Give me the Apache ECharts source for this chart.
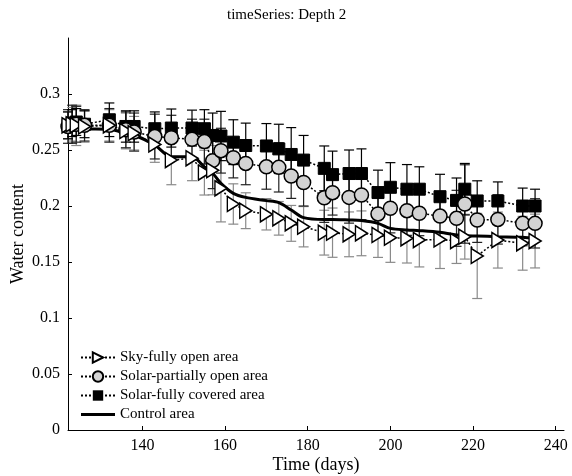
<!DOCTYPE html>
<html lang="en">
  <head>
    <meta charset="UTF-8" />
    <title>timeSeries: Depth 2</title>
    <style>
      html, body { margin: 0; padding: 0; background: #fff; }
    </style>
  </head>
  <body>
    <div id="main" style="width: 572px; height: 476px"></div>
    <script src="https://cdn.jsdelivr.net/npm/echarts@6/dist/echarts.min.js"></script>
    <script>
      // sample days (shared by all series)
      var days = [122, 123, 124, 126, 132, 136, 138, 143, 147, 152, 155, 157, 159, 162, 165, 170, 173,
        176, 179, 184, 186, 190, 193, 197, 200, 204, 207, 212, 216, 218, 221, 226, 232, 235];

      var skyOpen = [0.272, 0.273, 0.272, 0.271, 0.272, 0.267, 0.265, 0.255, 0.241, 0.2426, 0.2298, 0.232,
        0.2158, 0.2018, 0.1958, 0.1926, 0.189, 0.1845, 0.1815, 0.1762, 0.1762, 0.1747, 0.1756, 0.1741,
        0.1717, 0.1711, 0.1696, 0.1702, 0.1687, 0.1726, 0.1554, 0.1696, 0.1667, 0.1687];
      var skyErr = [0.012, 0.015, 0.018, 0.014, 0.014, 0.016, 0.015, 0.016, 0.022, 0.02, 0.02, 0.022,
        0.03, 0.018, 0.016, 0.014, 0.015, 0.016, 0.018, 0.02, 0.022, 0.02, 0.02, 0.02, 0.022, 0.022,
        0.024, 0.026, 0.02, 0.02, 0.038, 0.025, 0.024, 0.024];

      var solarPartial = [0.271, 0.273, 0.273, 0.272, 0.272, 0.268, 0.266, 0.262, 0.261, 0.2595, 0.2575,
        0.2405, 0.2494, 0.2431, 0.238, 0.235, 0.2345, 0.2268, 0.221, 0.2074, 0.2119, 0.2077, 0.2098,
        0.1929, 0.198, 0.1958, 0.1935, 0.191, 0.189, 0.2018, 0.1875, 0.188, 0.1845, 0.1845];
      var partialErr = [0.015, 0.017, 0.016, 0.014, 0.015, 0.016, 0.017, 0.02, 0.02, 0.018, 0.02, 0.025,
        0.02, 0.018, 0.019, 0.02, 0.022, 0.02, 0.021, 0.022, 0.02, 0.023, 0.022, 0.02, 0.022, 0.022,
        0.02, 0.022, 0.025, 0.035, 0.02, 0.022, 0.02, 0.022];

      var solarCovered = [0.272, 0.274, 0.275, 0.273, 0.277, 0.271, 0.271, 0.269, 0.2696, 0.2696, 0.269,
        0.263, 0.2625, 0.257, 0.254, 0.2536, 0.251, 0.246, 0.241, 0.2336, 0.228, 0.229, 0.229, 0.212,
        0.2167, 0.215, 0.215, 0.2083, 0.205, 0.215, 0.2045, 0.2045, 0.2, 0.2];
      var coveredErr = [0.012, 0.012, 0.012, 0.012, 0.015, 0.014, 0.014, 0.015, 0.017, 0.016, 0.017, 0.02,
        0.022, 0.02, 0.02, 0.02, 0.022, 0.024, 0.022, 0.02, 0.021, 0.021, 0.022, 0.02, 0.022, 0.022,
        0.02, 0.02, 0.02, 0.023, 0.018, 0.017, 0.016, 0.015];

      var control = [0.27, 0.27, 0.27, 0.269, 0.2685, 0.265, 0.2634, 0.2545, 0.244, 0.244, 0.235, 0.2292,
        0.2202, 0.2113, 0.2077, 0.2048, 0.203, 0.1964, 0.1896, 0.188, 0.188, 0.1875, 0.187, 0.1845,
        0.18, 0.1786, 0.178, 0.1765, 0.1741, 0.1735, 0.1732, 0.1726, 0.172, 0.1711];

      var xTicks = [140, 160, 180, 200, 220, 240];
      var yTicks = [0, 0.05, 0.1, 0.15, 0.2, 0.25, 0.3];

      var names = ["Sky-fully open area", "Solar-partially open area", "Solar-fully covered area", "Control area"];
      var serif = "Liberation Serif";

      function pairs(vals) {
        return days.map(function (d, i) { return [d, vals[i]]; });
      }
      function errData(vals, errs) {
        return days.map(function (d, i) { return [d, vals[i], errs[i]]; });
      }

      // draws a vertical error bar with caps
      function errRender(color) {
        return function (params, api) {
          var x = api.value(0), y = api.value(1), e = api.value(2);
          var top = api.coord([x, y + e]);
          var bot = api.coord([x, y - e]);
          var w = 5;
          var style = { stroke: color, lineWidth: 1.2 };
          return {
            type: "group",
            children: [
              { type: "line", shape: { x1: top[0], y1: top[1], x2: bot[0], y2: bot[1] }, style: style },
              { type: "line", shape: { x1: top[0] - w, y1: top[1], x2: top[0] + w, y2: top[1] }, style: style },
              { type: "line", shape: { x1: bot[0] - w, y1: bot[1], x2: bot[0] + w, y2: bot[1] }, style: style },
            ],
          };
        };
      }

      var dotted = { color: "#000", width: 1.5, type: [2, 2] };

      var myChart = echarts.init(document.getElementById("main"));
      var option = {
        animation: false,
        backgroundColor: "#fff",
        title: {
          text: "timeSeries: Depth 2",
          left: 222,
          top: 3,
          textStyle: { fontFamily: serif, fontWeight: "normal", fontSize: 15, color: "#000" },
        },
        legend: {
          data: [
            names[0],
            names[1],
            names[2],
            // plain thick bar for the control line
            { name: names[3], icon: "path://M0,0L34,0L34,3L0,3Z", itemStyle: { color: "#000" } },
          ],
          orient: "vertical",
          left: 75,
          top: 345,
          itemWidth: 34,
          itemHeight: 13,
          itemGap: 4,
          textStyle: { fontFamily: serif, fontSize: 15, color: "#000" },
        },
        grid: { left: 68, right: 8, top: 38, bottom: 46, containLabel: false, outerBoundsMode: "none" },
        xAxis: {
          type: "value",
          min: 122,
          max: 242,
          name: "Time (days)",
          nameLocation: "middle",
          nameGap: 26,
          nameMoveOverlap: false,
          nameTextStyle: { fontFamily: serif, fontSize: 18, color: "#000" },
          axisLine: { lineStyle: { color: "#000" } },
          axisTick: { inside: true, length: 4, customValues: xTicks, lineStyle: { color: "#000" } },
          axisLabel: { customValues: xTicks, fontFamily: serif, fontSize: 16, color: "#000", margin: 8 },
          splitLine: { show: false },
        },
        yAxis: {
          type: "value",
          min: 0,
          max: 0.35,
          name: "Water content",
          nameLocation: "middle",
          nameGap: 41,
          nameMoveOverlap: false,
          nameTextStyle: { fontFamily: serif, fontSize: 18, color: "#000" },
          axisLine: { show: true, lineStyle: { color: "#000" } },
          axisTick: { show: true, inside: true, length: 4, customValues: yTicks, lineStyle: { color: "#000" } },
          axisLabel: { customValues: yTicks, fontFamily: serif, fontSize: 16, color: "#000", margin: 8 },
          splitLine: { show: false },
        },
        series: [
          {
            type: "custom",
            name: "skyErr",
            renderItem: errRender("#8a8a8a"),
            data: errData(skyOpen, skyErr),
            encode: { x: 0, y: 1 },
            z: 1,
          },
          {
            type: "custom",
            name: "partialErr",
            renderItem: errRender("#222"),
            data: errData(solarPartial, partialErr),
            encode: { x: 0, y: 1 },
            z: 1,
          },
          {
            type: "custom",
            name: "coveredErr",
            renderItem: errRender("#000"),
            data: errData(solarCovered, coveredErr),
            encode: { x: 0, y: 1 },
            z: 1,
          },
          {
            type: "line",
            name: names[3],
            data: pairs(control),
            showSymbol: false,
            smooth: 0.3,
            lineStyle: { color: "#000", width: 3 },
            itemStyle: { color: "#000" },
            z: 2,
          },
          {
            type: "line",
            name: names[2],
            data: pairs(solarCovered),
            symbol: "rect",
            symbolSize: 12,
            lineStyle: dotted,
            itemStyle: { color: "#000", borderColor: "#000" },
            z: 3,
          },
          {
            type: "line",
            name: names[1],
            data: pairs(solarPartial),
            symbol: "circle",
            symbolSize: 14,
            lineStyle: dotted,
            itemStyle: { color: "#d3d3d3", borderColor: "#000", borderWidth: 1.5 },
            z: 4,
          },
          {
            type: "line",
            name: names[0],
            data: pairs(skyOpen),
            symbol: "path://M0,0L10,6L0,12Z",
            symbolSize: [12, 15],
            lineStyle: dotted,
            itemStyle: { color: "#fff", borderColor: "#000", borderWidth: 1.5 },
            z: 5,
          },
        ],
      };
      myChart.setOption(option);
    </script>
  </body>
</html>
